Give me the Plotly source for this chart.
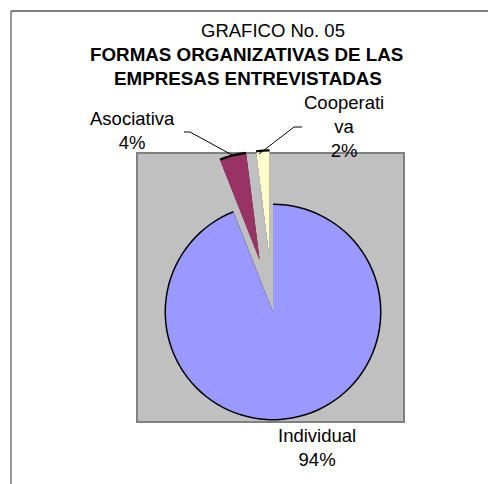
import plotly.graph_objects as go

# ---- data ----
categories = ["Individual", "Asociativa", "Cooperativa"]
values = [94, 4, 2]
display_labels = ["Individual", "Asociativa", "Cooperati<br>va"]
colors = ["#9999FF", "#993366", "#FFFFCC"]
pulls = [0, 0.5, 0.5]

# page body has an 8px margin; the figure fills the rest of the 496x484 window
OFF = 8
W, H = 496 - OFF, 484 - OFF

def px(x):
    return (x - OFF) / W

def py(y):
    return 1 - (y - OFF) / H

FONT = "Liberation Sans, Arial, sans-serif"

# pie geometry (window pixel space)
cx, cy, r = 273.0, 312.0, 107.0
maxpull = max(pulls)

def dom(rad):
    half = rad * (1 + maxpull)
    return dict(x=[px(cx - half), px(cx + half)], y=[py(cy + half), py(cy - half)])

fig = go.Figure()
# black underlay gives the arc outline only
fig.add_trace(go.Pie(
    labels=categories, values=values, sort=False, direction="clockwise", rotation=0,
    pull=pulls, marker=dict(colors=["#000000"] * 3, line=dict(width=0)),
    textinfo="none", hoverinfo="skip", showlegend=False, domain=dom(r + 1.5)))
fig.add_trace(go.Pie(
    labels=categories, values=values, sort=False, direction="clockwise", rotation=0,
    pull=pulls, marker=dict(colors=colors, line=dict(width=0)),
    textinfo="none", showlegend=False, domain=dom(r)))

shapes = [
    # plot area
    dict(type="rect", xref="paper", yref="paper", x0=px(137), x1=px(404), y0=py(422), y1=py(153),
         fillcolor="#C0C0C0", line=dict(color="#808080", width=2), layer="below"),
    # frame
    dict(type="line", xref="paper", yref="paper", x0=px(11), x1=px(496), y0=py(11), y1=py(11),
         line=dict(color="#000000", width=1)),
    dict(type="line", xref="paper", yref="paper", x0=px(11), x1=px(11), y0=py(11), y1=py(484),
         line=dict(color="#333333", width=1)),
    # leader lines
    dict(type="path", xref="paper", yref="paper",
         path=f"M {px(184)},{py(132)} L {px(190)},{py(132)} L {px(234)},{py(156)}",
         line=dict(color="#000000", width=1)),
    dict(type="path", xref="paper", yref="paper",
         path=f"M {px(302)},{py(127)} L {px(294)},{py(127)} L {px(259)},{py(154)}",
         line=dict(color="#000000", width=1)),
]

annotations = [
    dict(text="GRAFICO No. 05", x=px(273), y=py(30), size=18.5),
    dict(text="<b>FORMAS ORGANIZATIVAS DE LAS</b>", x=px(246), y=py(55), size=18.8),
    dict(text="<b>EMPRESAS ENTREVISTADAS</b>", x=px(248), y=py(78), size=18.8),
    dict(text=f"{display_labels[1]}<br>{values[1]}%", x=px(132), y=py(131), size=18.5),
    dict(text=f"{display_labels[2]}<br>{values[2]}%", x=px(344), y=py(126), size=18.5),
    dict(text=f"{display_labels[0]}<br>{values[0]}%", x=px(317), y=py(447), size=18.5),
]
for a in annotations:
    s = a.pop("size")
    a.update(xref="paper", yref="paper", showarrow=False, xanchor="center", yanchor="middle",
             font=dict(family=FONT, size=s, color="#000000"))

fig.update_layout(
    width=W, height=H, margin=dict(l=0, r=0, t=0, b=0),
    paper_bgcolor="#FFFFFF", plot_bgcolor="#FFFFFF",
    shapes=shapes, annotations=annotations, showlegend=False,
)

fig.write_html("out.html")
